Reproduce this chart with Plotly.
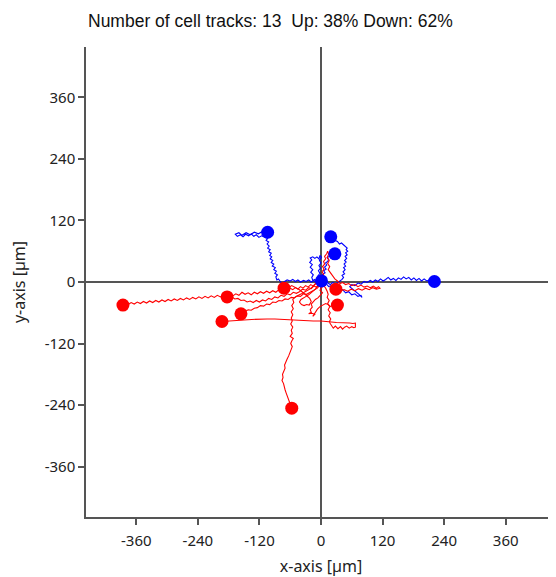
import plotly.graph_objects as go

# ---- data (µm), each track starts at origin; last point = end marker ----
up1_x = [0, -4, -9, -14, -19, -24, -29, -34, -40, -45, -50, -55, -60, -66, -71, -76, -80, -83, -86, -88, -85, -90, -87, -92, -89, -95, -92, -97, -94, -99, -96, -100, -97, -102, -99, -104, -101, -105, -102, -107, -104, -110, -116, -121, -126, -131, -136, -141, -147, -152, -157, -163, -167, -160, -154, -146, -138, -130, -122, -115, -109, -104]
up1_y = [0, 2, -1, 3, 0, 4, 1, 3, 0, 4, 1, 5, 2, 4, 1, -3, 2, 6, 4, 10, 14, 17, 21, 24, 28, 31, 35, 38, 42, 45, 49, 52, 56, 59, 63, 66, 70, 74, 78, 81, 85, 87, 90, 87, 92, 89, 94, 90, 93, 88, 92, 89, 93, 96, 91, 96, 92, 97, 94, 98, 95, 97]

up2_x = [0, 5, 9, 14, 18, 23, 28, 33, 38, 41, 44, 41, 46, 43, 47, 44, 48, 45, 49, 46, 50, 47, 51, 48, 52, 49, 51, 47, 44, 40, 36, 32, 28, 24, 21, 19]
up2_y = [0, -3, 1, -2, -5, -1, -4, -1, 2, 5, 9, 13, 16, 20, 24, 28, 31, 35, 39, 42, 46, 50, 53, 57, 60, 63, 66, 69, 72, 76, 74, 79, 81, 84, 86, 88]

up3_x = [0, 4, 2, 6, 3, 8, 5, 10, 7, 11, 9, 13, 15, 12, 16, 19, 22, 25, 27]
up3_y = [0, 4, 8, 11, 15, 18, 22, 25, 29, 33, 37, 40, 44, 47, 50, 48, 53, 51, 55]

up4_x = [0, -4, -8, -12, -16, -18, -15, -20, -16, -21, -17, -22, -18, -21, -16, -12, -8, -4, -2, 1, -3, 0, -4, -1, -5, -2, -6, -1, 3, 0, -2, 1]
up4_y = [0, 4, 1, 5, 3, 9, 14, 19, 24, 29, 34, 38, 43, 47, 49, 46, 49, 45, 52, 48, 42, 37, 32, 27, 22, 17, 12, 8, 5, 3, 1, 2]

up5_x = [0, 5, 10, 15, 20, 25, 30, 36, 42, 48, 54, 60, 66, 72, 78, 80, 74, 68, 62, 56, 60, 66, 72, 78, 84, 90, 96, 101, 106, 111, 116, 121, 126, 131, 136, 141, 146, 151, 156, 161, 166, 171, 176, 181, 186, 191, 196, 201, 206, 211, 216, 221]
up5_y = [0, -5, -3, -9, -7, -13, -11, -17, -15, -21, -19, -25, -23, -28, -26, -30, -24, -19, -14, -9, -5, -7, -2, -4, 1, -1, 3, 0, 4, 1, 6, 2, 5, 9, 4, 7, 3, 8, 5, 10, 6, 9, 4, 8, 3, 7, 2, 6, 2, 4, 0, 1]

down1_x = [0, -5, -10, -15, -20, -25, -30, -35, -40, -45, -50, -55, -60, -65, -70, -76, -82, -88, -94, -100, -106, -112, -118, -124, -130, -136, -142, -148, -154, -160, -166, -172, -178, -184, -190, -196, -202, -208, -214, -220, -226, -232, -238, -244, -250, -256, -262, -268, -274, -280, -286, -292, -298, -304, -310, -316, -322, -328, -334, -340, -346, -352, -358, -364, -370, -376, -381, -386]
down1_y = [0, -5, -2, -8, -5, -10, -7, -12, -9, -14, -11, -15, -12, -17, -14, -18, -15, -20, -17, -21, -18, -22, -19, -23, -20, -25, -21, -24, -20, -26, -23, -27, -24, -28, -25, -29, -26, -30, -27, -31, -28, -32, -29, -33, -30, -34, -31, -35, -32, -36, -33, -37, -34, -38, -35, -39, -36, -40, -37, -41, -38, -42, -39, -43, -40, -44, -42, -45]

down2_x = [0, -4, -9, -14, -19, -24, -30, -36, -42, -48, -54, -60, -66, -72, -78, -84, -90, -96, -102, -108, -114, -120, -126, -132, -138, -144, -150, -156, -162, -168, -174, -179, -183]
down2_y = [0, -7, -10, -8, -13, -11, -16, -14, -19, -22, -20, -25, -23, -28, -26, -31, -29, -34, -32, -37, -35, -39, -36, -40, -37, -39, -35, -36, -32, -33, -29, -31, -29]

down3_x = [0, -3, -7, -12, -17, -22, -28, -34, -40, -46, -52, -58, -64, -70, -76, -82, -88, -94, -100, -106, -112, -118, -124, -130, -136, -142, -148, -152, -156]
down3_y = [0, -7, -12, -15, -18, -20, -24, -23, -28, -27, -31, -30, -34, -33, -37, -36, -40, -39, -44, -43, -47, -46, -50, -51, -55, -54, -58, -60, -62]

down4_x = [0, 5, 9, 12, 14, 12, 16, 13, 17, 14, 18, 15, 19, 16, 20, 24, 28, 33, 38, 42, 46, 50, 55, 60, 64, 67, 67, 62, 56, 48, 40, 30, 20, 10, 0, -15, -30, -45, -60, -75, -90, -105, -120, -135, -150, -165, -180, -193]
down4_y = [0, -6, -12, -18, -24, -30, -36, -42, -48, -54, -60, -66, -72, -78, -84, -90, -86, -91, -87, -92, -88, -86, -90, -87, -89, -88, -80, -81, -80, -80, -79, -79, -78, -77, -76, -76, -75, -74, -73, -72, -72, -72, -72, -73, -74, -75, -76, -77]

down5_x = [0, -5, -10, -15, -20, -26, -32, -38, -44, -50, -55, -53, -57, -54, -58, -55, -58, -56, -59, -55, -58, -56, -60, -54, -57, -59, -56, -58, -61, -63, -66, -68, -71, -70, -73, -75, -74, -76, -73, -72, -70, -68, -66, -63, -60, -57]
down5_y = [0, -6, -3, -9, -13, -16, -20, -23, -26, -29, -34, -40, -46, -52, -58, -64, -70, -76, -82, -88, -94, -100, -106, -110, -115, -120, -126, -132, -138, -144, -150, -156, -162, -168, -174, -180, -186, -192, -198, -204, -210, -216, -222, -228, -236, -246]

down6_x = [0, -4, -8, -11, -15, -19, -24, -29, -34, -39, -42, -38, -33, -28, -23, -19, -22, -27, -32, -37, -42, -47, -52, -57, -62, -67, -72]
down6_y = [0, -4, -9, -14, -18, -22, -25, -28, -31, -34, -39, -44, -46, -44, -45, -38, -32, -27, -23, -19, -15, -12, -9, -7, -10, -9, -12]

down7_x = [0, 3, 1, 5, 2, 6, 3, 7, 5, 9, 7, 11, 13, 15, 12, 16, 13, 17, 14, 18, 22, 27, 32, 37, 42, 48, 54, 60, 66, 72, 78, 84, 90, 96, 102, 108, 112, 115, 108, 101, 94, 87, 80, 73, 66, 59, 52, 45, 38, 33, 29]
down7_y = [0, 5, 10, 15, 20, 25, 30, 35, 40, 45, 50, 55, 60, 54, 48, 42, 36, 30, 24, 18, 12, 6, 2, -3, -1, -5, -3, -7, -5, -9, -6, -10, -8, -11, -8, -12, -9, -12, -14, -11, -15, -12, -16, -13, -17, -14, -18, -15, -17, -14, -14]

down8_x = [0, -3, 2, -2, 3, -1, -6, -11, -15, -19, -17, -21, -19, -24, -18, -12, -16, -11, -7, -2, 4, 9, 14, 19, 23, 28, 32]
down8_y = [0, -6, -11, -16, -21, -26, -31, -34, -38, -43, -49, -54, -59, -62, -61, -63, -67, -59, -53, -48, -45, -42, -44, -48, -44, -47, -45]

up_tracks = [(up1_x, up1_y), (up2_x, up2_y), (up3_x, up3_y), (up4_x, up4_y), (up5_x, up5_y)]
down_tracks = [(down1_x, down1_y), (down2_x, down2_y), (down3_x, down3_y), (down4_x, down4_y),
               (down5_x, down5_y), (down6_x, down6_y), (down7_x, down7_y), (down8_x, down8_y)]

title_text = "Number of cell tracks: 13  Up: 38% Down: 62%"
tick_vals = [-360, -240, -120, 0, 120, 240, 360]
tick_text = ["-360", "-240", "-120", "0", "120", "240", "360"]

BLUE = "#0000FF"
RED = "#FF0000"

fig = go.Figure()
for tracks, col in ((up_tracks, BLUE), (down_tracks, RED)):
    for tx, ty in tracks:
        fig.add_trace(go.Scatter(x=tx, y=ty, mode="lines",
                                 line=dict(color=col, width=1.1), hoverinfo="skip"))
for tracks, col in ((up_tracks, BLUE), (down_tracks, RED)):
    fig.add_trace(go.Scatter(x=[t[0][-1] for t in tracks], y=[t[1][-1] for t in tracks],
                             mode="markers", marker=dict(color=col, size=13, line=dict(width=0))))

axis_common = dict(
    range=[-458, 458], tickvals=tick_vals, ticktext=tick_text, showgrid=False,
    zeroline=True, zerolinecolor="#555555", zerolinewidth=1.5,
    showline=True, linecolor="#555555", linewidth=1.5,
    ticks="outside", ticklen=6, tickcolor="#555555", tickwidth=1.5,
    tickfont=dict(family="Noto Sans", size=15, color="#222222"),
    automargin=False,
)

# page body has an 8px margin; figure is sized to fit inside the 556x577 window
fig.update_layout(
    width=548, height=569,
    margin=dict(l=78, r=0, t=39, b=60),
    paper_bgcolor="white", plot_bgcolor="white",
    showlegend=False,
    xaxis=dict(**axis_common, ticklabelstandoff=3,
               title=dict(text="x-axis [µm]", font=dict(family="Noto Sans", size=16, color="#222222"), standoff=13)),
    yaxis=dict(**axis_common,
               title=dict(text="y-axis [µm]", font=dict(family="Noto Sans", size=16, color="#222222"), standoff=17)),
    annotations=[dict(text=title_text, xref="paper", yref="paper", x=0, y=1, xanchor="left",
                      yanchor="bottom", yshift=14, showarrow=False,
                      font=dict(family="Liberation Sans", size=17.5, color="#111111"))],
)

fig.write_html("out.html")
